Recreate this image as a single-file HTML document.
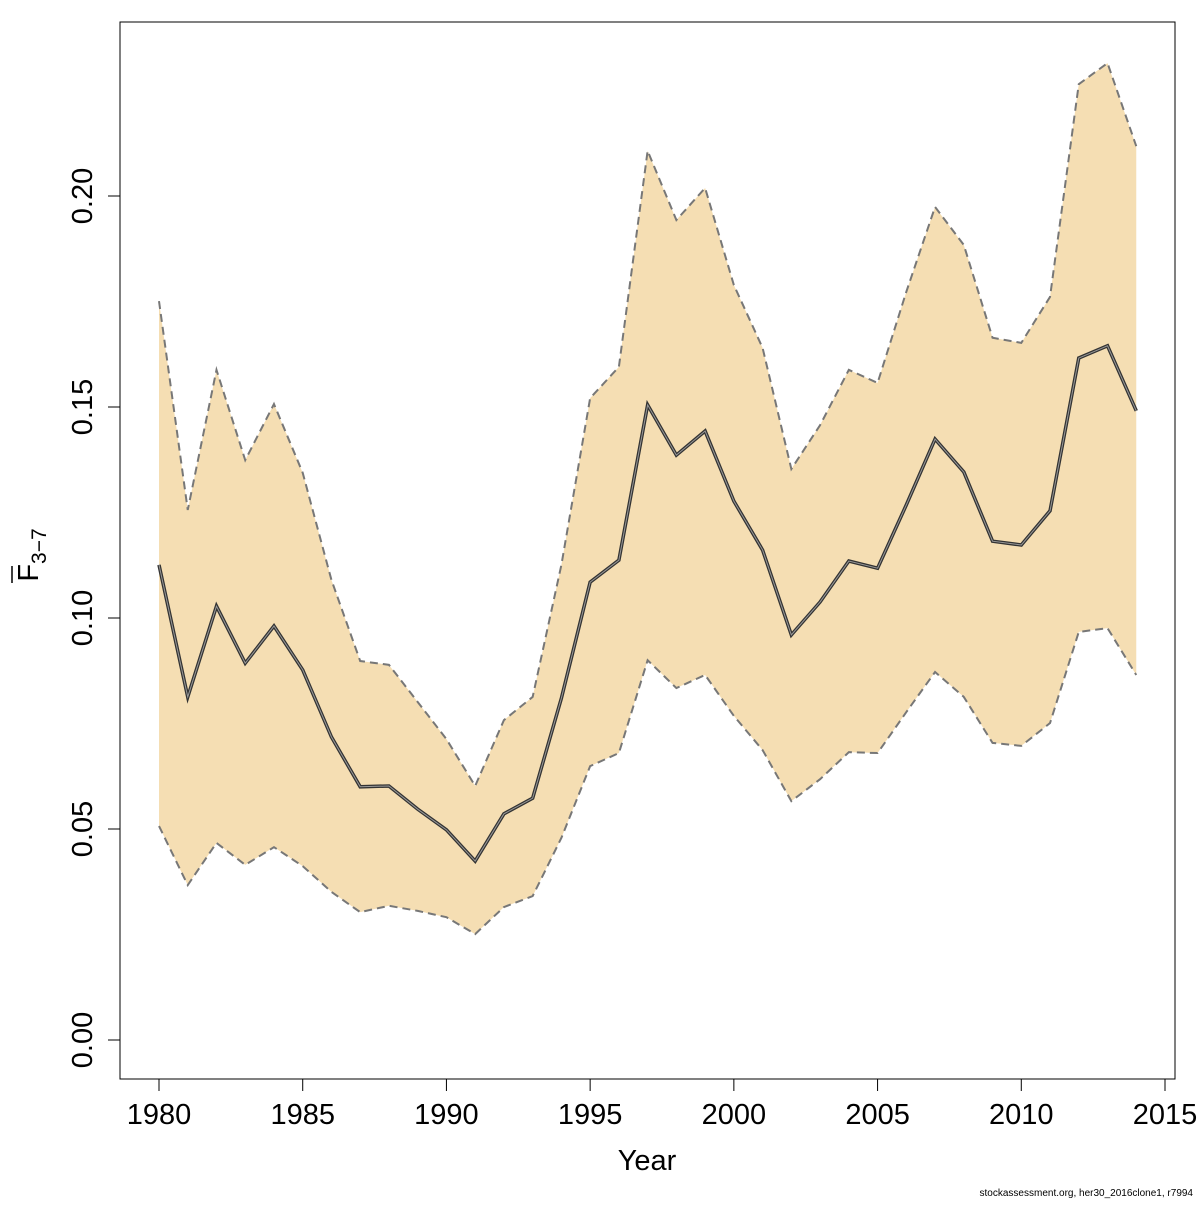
<!DOCTYPE html>
<html><head><meta charset="utf-8"><style>
body{margin:0;background:#fff;}
svg text{font-family:"Liberation Sans","DejaVu Sans",sans-serif;fill:#000;}
</style></head><body>
<svg id="chart" width="1200" height="1200" xmlns="http://www.w3.org/2000/svg">
<rect x="120" y="22" width="1055" height="1057" fill="none" stroke="#000" stroke-width="1"/>
<g id="band"></g><g id="lines"></g><g id="axes"></g>
<text x="647" y="1170" font-size="29" text-anchor="middle">Year</text>
<text transform="translate(38,555) rotate(-90)" font-size="29" text-anchor="middle">F<tspan font-size="21" dy="8">3−7</tspan></text>
<line x1="12" y1="566" x2="12" y2="583" stroke="#000" stroke-width="1.5"/>
<text x="1193" y="1196" font-size="10" text-anchor="end">stockassessment.org, her30_2016clone1, r7994</text>
</svg>
<script>
const years=[1980,1981,1982,1983,1984,1985,1986,1987,1988,1989,1990,1991,1992,1993,1994,1995,1996,1997,1998,1999,2000,2001,2002,2003,2004,2005,2006,2007,2008,2009,2010,2011,2012,2013,2014];
const meanF=[0.1126,0.0813,0.1028,0.0893,0.0981,0.0877,0.0718,0.0600,0.0602,0.0547,0.0498,0.0424,0.0536,0.0573,0.0810,0.1085,0.1137,0.1505,0.1386,0.1443,0.1277,0.1161,0.0960,0.1038,0.1135,0.1118,0.1268,0.1424,0.1346,0.1182,0.1173,0.1254,0.1616,0.1645,0.1491];
const upperF=[0.1751,0.1256,0.1588,0.1374,0.1507,0.1344,0.1090,0.0898,0.0889,0.0801,0.0713,0.0602,0.0758,0.0813,0.1126,0.1521,0.1595,0.2107,0.1943,0.2019,0.1789,0.1640,0.1353,0.1457,0.1588,0.1557,0.1773,0.1974,0.1884,0.1664,0.1652,0.1761,0.2265,0.2315,0.2118];
const lowerF=[0.0507,0.0367,0.0467,0.0415,0.0457,0.0412,0.0351,0.0303,0.0318,0.0306,0.0291,0.0251,0.0315,0.0341,0.0479,0.0649,0.0680,0.0900,0.0834,0.0865,0.0768,0.0687,0.0566,0.0618,0.0682,0.0680,0.0777,0.0872,0.0813,0.0704,0.0697,0.0751,0.0967,0.0976,0.0865];
const xTicks=[1980,1985,1990,1995,2000,2005,2010,2015];
const yTicks=[0,0.05,0.10,0.15,0.20];
const yTickLabels=["0.00","0.05","0.10","0.15","0.20"];
const NS="http://www.w3.org/2000/svg";
const xs=y=>159+(y-1980)*(1006/35);
const ys=v=>1040-v*4220;
function mk(t,a,p){const e=document.createElementNS(NS,t);for(const k in a)e.setAttribute(k,a[k]);p.appendChild(e);return e;}
const band=document.getElementById('band'),lines=document.getElementById('lines'),axes=document.getElementById('axes');
let pts=years.map((y,i)=>xs(y)+','+ys(upperF[i])).concat(years.map((y,i)=>xs(y)+','+ys(lowerF[i])).reverse());
const poly=mk('polygon',{points:pts.join(' '),fill:'#f5deb3',stroke:'none'},band);


const up=mk('polyline',{points:years.map((y,i)=>xs(y)+','+ys(upperF[i])).join(' '),fill:'none',stroke:'#777','stroke-width':2,'stroke-dasharray':'8,5'},lines);


const lo=mk('polyline',{points:years.map((y,i)=>xs(y)+','+ys(lowerF[i])).join(' '),fill:'none',stroke:'#777','stroke-width':2,'stroke-dasharray':'8,5'},lines);


const mp=years.map((y,i)=>xs(y)+','+ys(meanF[i])).join(' ');
const m1=mk('polyline',{points:mp,fill:'none',stroke:'#333','stroke-width':3.5},lines);


const m2=mk('polyline',{points:mp,fill:'none',stroke:'#999','stroke-width':1},lines);


const xa=mk('line',{x1:xs(1980),x2:xs(2015),y1:1079,y2:1079,stroke:'#000'},axes);


xTicks.forEach(t=>{const l=mk('line',{x1:xs(t),x2:xs(t),y1:1079,y2:1091,stroke:'#000'},axes);


const tx=mk('text',{x:xs(t),y:1124,'font-size':29,'text-anchor':'middle'},axes);tx.textContent=t;

});
yTicks.forEach((t,i)=>{const l=mk('line',{x1:108,x2:120,y1:ys(t),y2:ys(t),stroke:'#000'},axes);


const tx=mk('text',{transform:`translate(92,${ys(t)}) rotate(-90)`,'font-size':29,'text-anchor':'middle'},axes);tx.textContent=yTickLabels[i];

});
</script>
</body></html>
